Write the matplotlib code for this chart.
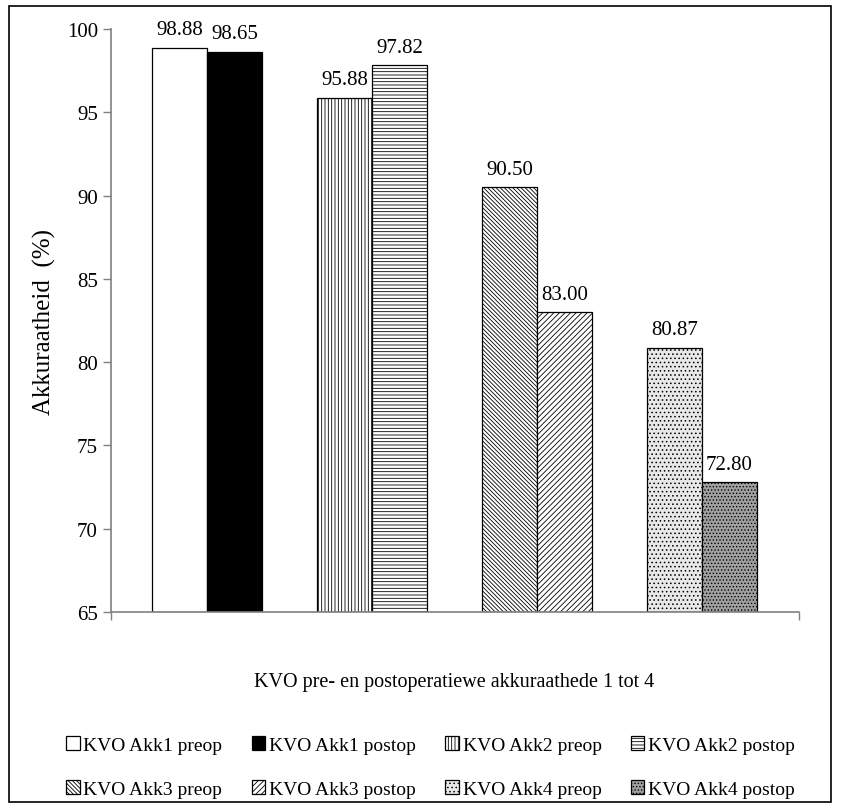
import matplotlib
matplotlib.use("Agg")
import matplotlib.pyplot as plt
import matplotlib.patches as mpatches
import numpy as np

plt.rcParams['font.family'] = ['Liberation Serif', 'DejaVu Serif']
plt.rcParams['hatch.linewidth'] = 0.6

# Data
groups = ['Akk1', 'Akk2', 'Akk3', 'Akk4']
preop = [98.88, 95.88, 90.50, 80.87]
postop = [98.65, 97.82, 83.00, 72.80]
yticks = [65, 70, 75, 80, 85, 90, 95, 100]

# fill styles per bar (preop, postop) for each group
preop_style = [('white', ''), ('white', '|||||'), ('white', '\\' * 8), ('#e8e8e8', '....')]
postop_style = [('black', ''), ('white', '-----'), ('white', '//////'), ('#a0a0a0', '.....')]

fig = plt.figure(figsize=(8.41, 8.12), dpi=100)
ax = fig.add_axes([0.132, 0.245, 0.818, 0.718])

x = np.arange(len(groups))
w = 1 / 3
handles = {}
for i in range(len(groups)):
    fc, h = preop_style[i]
    b1 = ax.bar(x[i] - w / 2, preop[i] - 65, w, bottom=65, color=fc, hatch=h,
                edgecolor='black', linewidth=0.9)
    fc, h = postop_style[i]
    b2 = ax.bar(x[i] + w / 2, postop[i] - 65, w, bottom=65, color=fc, hatch=h,
                edgecolor='black', linewidth=0.9)
    handles['KVO %s preop' % groups[i]] = b1
    handles['KVO %s postop' % groups[i]] = b2
    ax.text(x[i] - w / 2, preop[i] + 0.5, '%.2f' % preop[i], ha='center', va='bottom', fontsize=15)
    ax.text(x[i] + w / 2, postop[i] + 0.5, '%.2f' % postop[i], ha='center', va='bottom', fontsize=15)

ax.set_ylim(65, 100)
ax.set_xlim(-0.582, 3.588)
ax.set_yticks(yticks)
ax.set_yticklabels([str(t) for t in yticks], fontsize=15)
ax.set_xticks([-0.582, 3.588])
ax.set_xticklabels(['', ''])
ax.tick_params(axis='both', direction='out', length=6, width=1, color='#808080')
for s in ['top', 'right']:
    ax.spines[s].set_visible(False)
for s in ['left', 'bottom']:
    ax.spines[s].set_color('#808080')
    ax.spines[s].set_linewidth(1.2)
ax.set_ylabel('Akkuraatheid  (%)', fontsize=18, labelpad=8)

fig.text(0.54, 0.159, 'KVO pre- en postoperatiewe akkuraathede 1 tot 4', ha='center', va='center', fontsize=14.5)

# legend laid out row by row like the original
labels = list(handles.keys())
order = [0, 4, 1, 5, 2, 6, 3, 7]
leg = fig.legend([handles[labels[k]] for k in order], [labels[k] for k in order],
                 ncol=4, loc='center', bbox_to_anchor=(0.512, 0.054), frameon=False,
                 fontsize=14, handlelength=0.7, handleheight=0.7, handletextpad=0.2,
                 columnspacing=1.5, labelspacing=1.35)

# border round the whole chart
fig.patches.append(mpatches.Rectangle((0.011, 0.011), 0.977, 0.98, transform=fig.transFigure,
                                      fill=False, edgecolor='black', linewidth=1.2))

fig.savefig('out.png', dpi=100)
